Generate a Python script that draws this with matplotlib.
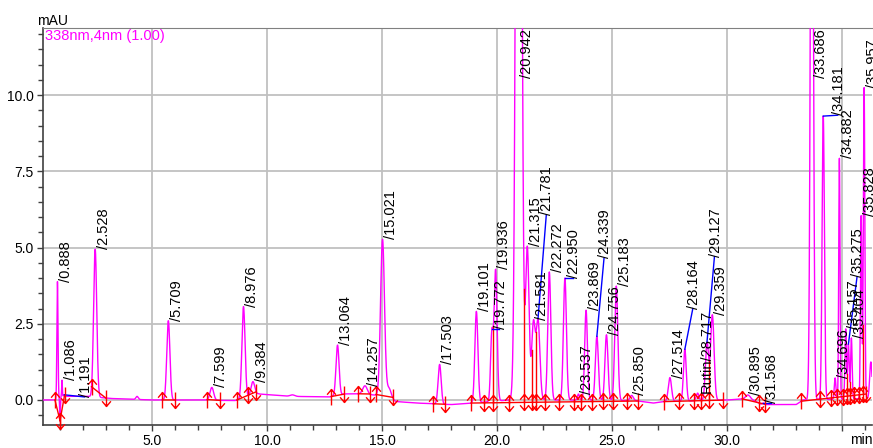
import numpy as np
import matplotlib.pyplot as plt
from matplotlib.path import Path
from matplotlib.ticker import MultipleLocator, FuncFormatter

plt.rcParams['font.family'] = ['Liberation Sans', 'DejaVu Sans']

# ------------------- Peak table -------------------
peak_rt = [0.888, 1.086, 1.191, 2.528, 5.709, 7.599, 8.976, 9.384, 13.064, 14.257,
           15.021, 17.503, 19.101, 19.772, 19.936, 20.942, 21.315, 21.581, 21.781, 22.272,
           22.950, 23.537, 23.869, 24.339, 24.756, 25.183, 25.850, 27.514, 28.164, 28.717,
           29.127, 29.359, 30.895, 31.568, 33.686, 34.181, 34.696, 34.882, 35.157, 35.275,
           35.404, 35.828, 35.957]
peak_height = [3.85, 0.55, 0.05, 4.85, 2.6, 0.42, 3.0, 0.45, 1.65, 0.28,
               5.15, 1.3, 3.0, 2.2, 4.3, 45.0, 5.0, 2.5, 2.6, 4.2,
               4.0, 0.2, 2.95, 2.1, 2.15, 3.75, 0.17, 0.78, 1.7, 0.25,
               1.9, 2.8, 0.12, 0.05, 25.0, 9.3, 0.7, 7.9, 2.3, 1.8,
               2.0, 6.0, 10.2]
peak_sigma = [0.024, 0.015, 0.04, 0.068, 0.068, 0.08, 0.068, 0.08, 0.066, 0.1,
              0.085, 0.066, 0.066, 0.055, 0.065, 0.10, 0.075, 0.075, 0.08, 0.066,
              0.066, 0.045, 0.06, 0.066, 0.066, 0.066, 0.07, 0.07, 0.06, 0.06,
              0.07, 0.075, 0.09, 0.05, 0.06, 0.05, 0.035, 0.028, 0.033, 0.033,
              0.033, 0.03, 0.032]
peak_names = {'28.717': 'Rutin'}

# unlabeled bumps / dips
bump_rt = [1.0, 4.35, 11.1, 15.3, 36.25]
bump_height = [-0.75, 0.1, 0.05, 0.35, 1.2]
bump_sigma = [0.015, 0.05, 0.1, 0.1, 0.05]

# baseline drift
drift_t = [0.26, 0.8, 1.15, 2.2, 3.2, 5.0, 7.0, 8.6, 9.6, 11.0, 12.7, 13.4, 14.0, 14.9,
           15.6, 16.5, 18.0, 19.0, 20.5, 23.0, 26.0, 26.8, 27.3, 30.0, 31.0, 31.5, 33.0,
           33.3, 36.3]
drift_v = [0.0, 0.0, 0.12, 0.12, 0.05, 0.0, 0.0, -0.02, 0.2, 0.12, 0.1, 0.2, 0.2, 0.15,
           -0.05, -0.1, -0.15, -0.1, 0.0, 0.0, -0.02, -0.1, -0.05, 0.0, 0.05, -0.15, -0.15,
           0.0, 0.05]

# integration groups (start, valleys..., end)
groups = [
    [0.78, 1.0],
    [1.0, 1.2],
    [2.37, 2.99],
    [5.45, 5.98],
    [7.40, 7.94],
    [8.69, 9.17, 9.53],
    [12.79, 13.33],
    [13.97, 14.48],
    [14.74, 15.46],
    [17.23, 17.74],
    [18.87, 19.42, 19.84, 20.53, 21.18, 21.5, 21.69, 22.09, 22.7, 23.35, 23.64, 24.14,
     24.6, 25.02, 25.67, 26.13],
    [27.26, 27.91, 28.56, 28.85, 29.21, 29.82],
    [30.66, 31.38, 31.67],
    [33.22, 34.02, 34.5, 34.79, 35.03, 35.22, 35.34, 35.5, 35.73, 35.9, 36.05],
]

# labels that were moved away from their peak (label centre x, label bottom y)
label_moved = {
    '1.191': (2.12, 0.10),
    '21.781': (22.19, 6.07),
    '24.339': (24.70, 4.65),
    '28.164': (28.56, 3.0),
    '29.127': (29.50, 4.7),
    '35.275': (35.70, 4.04),
    '34.181': (34.86, 9.34),
}
leader = ['1.191', '19.772', '21.781', '22.950', '24.339', '28.164', '29.127',
          '31.568', '34.181', '35.275']

# ------------------- Build trace -------------------
XMIN, XMAX, YMIN, YMAX = 0.26, 36.3, -0.82, 12.2
t = np.linspace(XMIN, XMAX, 12000)
y = np.interp(t, drift_t, drift_v)
for rt, h, s in zip(peak_rt + bump_rt, peak_height + bump_height, peak_sigma + bump_sigma):
    y = y + h * np.exp(-0.5 * ((t - rt) / s) ** 2)


def trace_at(x):
    return np.interp(x, t, y)


# ------------------- Markers -------------------
M, L = Path.MOVETO, Path.LINETO
up = Path([(0, -1), (0, 1), (-0.55, 0.35), (0, 1), (0.55, 0.35)], [M, L, M, L, L])
down = Path([(0, 1), (0, -1), (-0.55, -0.35), (0, -1), (0.55, -0.35)], [M, L, M, L, L])
both = Path([(0, -1), (0, 1), (-0.55, 0.35), (0, 1), (0.55, 0.35),
             (-0.55, -0.35), (0, -1), (0.55, -0.35)], [M, L, M, L, L, M, L, L])

RED, MAG, BLUE = '#FF0000', '#FF00FF', '#0000FF'

# ------------------- Plot -------------------
fig = plt.figure(figsize=(8.73, 4.48), dpi=100)
ax = fig.add_axes([43 / 873, 23 / 448, 829 / 873, 397 / 448])

ax.plot(t, y, color=MAG, lw=1.0, zorder=3)

for g in groups:
    y0, y1 = trace_at(g[0]), trace_at(g[-1])
    base = lambda x: y0 + (y1 - y0) * (x - g[0]) / (g[-1] - g[0])
    ax.plot([g[0], g[-1]], [y0, y1], color=RED, lw=1.0, zorder=4)
    for k, x in enumerate(g):
        b = base(x)
        if k == 0:
            mk = up
        elif k == len(g) - 1:
            mk = down
        else:
            mk = both
            ax.plot([x, x], [b, trace_at(x)], color=RED, lw=1.0, zorder=4)
        ax.plot([x], [b], marker=mk, ms=11.5, mfc='none', mec=RED, mew=1.0,
                zorder=5, clip_on=False)

DX = 0.38
for rt in peak_rt:
    key = f'{rt:.3f}'
    txt = peak_names.get(key, '') + '/' + key
    apex = trace_at(rt)
    va = 'bottom'
    if key in label_moved:
        lx, ly = label_moved[key]
    elif apex > YMAX:
        lx, ly, va = rt + DX, YMAX - 0.05, 'top'
    else:
        lx, ly = rt + DX, apex
    if key in leader:
        ax.plot([rt, lx - 0.05], [apex, ly], color=BLUE, lw=1.0, zorder=4)
    ax.text(lx, ly, txt, rotation=90, ha='center', va=va, fontsize=10.5,
            color='#000000', zorder=6, clip_on=False)

ax.set_xlim(XMIN, XMAX)
ax.set_ylim(YMIN, YMAX)

ax.xaxis.set_major_locator(MultipleLocator(5))
ax.xaxis.set_minor_locator(MultipleLocator(1))
ax.yaxis.set_major_locator(MultipleLocator(2.5))
ax.yaxis.set_minor_locator(MultipleLocator(0.5))
ax.xaxis.set_major_formatter(FuncFormatter(lambda v, p: '' if v >= 35 else f'{v:.1f}'))
ax.yaxis.set_major_formatter(FuncFormatter(lambda v, p: f'{v:.1f}'))
ax.tick_params(which='both', direction='out', color='#404040', width=1.0,
               labelsize=10, pad=2)
ax.tick_params(which='major', length=4.5)
ax.tick_params(which='minor', length=3.5)

ax.grid(which='major', color='#C0C0C0', lw=1.3)
ax.set_axisbelow(True)
for side in ['left', 'bottom']:
    ax.spines[side].set_color('#404040')
    ax.spines[side].set_linewidth(1.2)
ax.spines['top'].set_color('#808080')
ax.spines['right'].set_visible(False)

ax.text(0.002, 0.998, '338nm,4nm (1.00)', transform=ax.transAxes, ha='left', va='top',
        color=MAG, fontsize=10.5, zorder=7)
fig.text(37 / 873, 1 - 20.7 / 448, 'mAU', ha='left', va='center', fontsize=10)
fig.text(850 / 873, 1 - 433 / 448, 'min', ha='left', va='top', fontsize=10)

fig.savefig('out.png', dpi=100)
